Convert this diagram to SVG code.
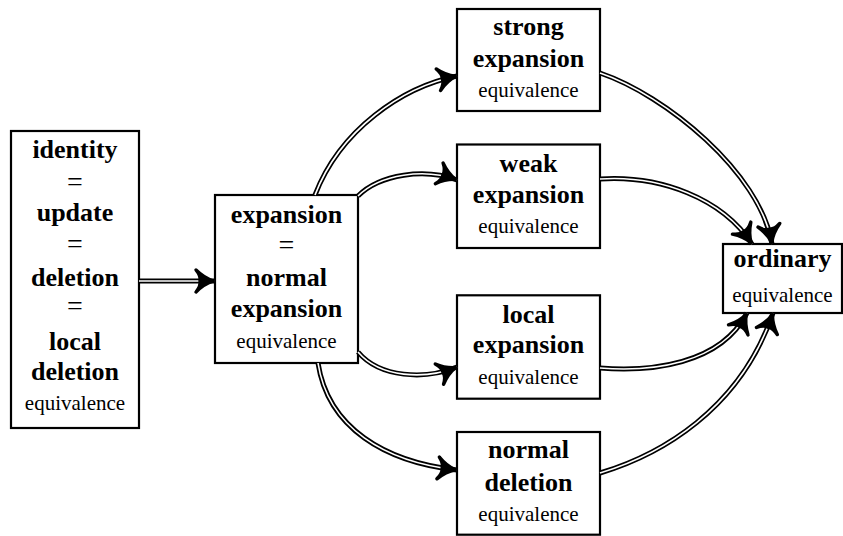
<svg xmlns="http://www.w3.org/2000/svg" width="843" height="536" viewBox="0 0 843 536">
<style>
.box{fill:#fff;stroke:#000;stroke-width:2.2}
.b{font-family:"Liberation Serif","Times New Roman","Nimbus Roman",serif;font-weight:bold;font-size:26px;text-anchor:middle;fill:#000}
.r{font-family:"Liberation Serif","Times New Roman","Nimbus Roman",serif;font-size:21px;text-anchor:middle;fill:#000}
.eq{font-family:"Liberation Serif","Times New Roman","Nimbus Roman",serif;font-size:28px;text-anchor:middle;fill:#000}
.o{fill:none;stroke:#000;stroke-width:5}
.i{fill:none;stroke:#fff;stroke-width:1.6}
.t{fill:none;stroke:none;marker-end:url(#ah)}
</style>
<defs>
<marker id="ah" markerUnits="userSpaceOnUse" viewBox="-30 -16 34 32" markerWidth="34" markerHeight="32" refX="0" refY="0" orient="auto" overflow="visible">
<path d="M-1.5,0 Q-11,-3 -19,-11 Q-14,-5 -15,0 Q-14,5 -19,11 Q-11,3 -1.5,0 Z" fill="#000" stroke="#000" stroke-width="3.4" stroke-linejoin="round"/>
</marker>
</defs>

<g id="n-identity">
<rect class="box" x="11" y="131" width="128" height="297"/>
<text class="b" x="75" y="158">identity</text>
<text class="eq" x="75" y="191">=</text>
<text class="b" x="75" y="221">update</text>
<text class="eq" x="75" y="253">=</text>
<text class="b" x="75" y="286">deletion</text>
<text class="eq" x="75" y="315">=</text>
<text class="b" x="75" y="350">local</text>
<text class="b" x="75" y="380">deletion</text>
<text class="r" x="75" y="410">equivalence</text>
</g>

<g id="n-expansion">
<rect class="box" x="215" y="195" width="143" height="168"/>
<text class="b" x="286.5" y="223">expansion</text>
<text class="eq" x="286.5" y="254">=</text>
<text class="b" x="286.5" y="286">normal</text>
<text class="b" x="286.5" y="317">expansion</text>
<text class="r" x="286.5" y="348">equivalence</text>
</g>

<g id="n-strong">
<rect class="box" x="457" y="9" width="143" height="102"/>
<text class="b" x="528.5" y="35">strong</text>
<text class="b" x="528.5" y="67">expansion</text>
<text class="r" x="528.5" y="97">equivalence</text>
</g>

<g id="n-weak">
<rect class="box" x="457" y="144.5" width="143" height="103.5"/>
<text class="b" x="528.5" y="172">weak</text>
<text class="b" x="528.5" y="203">expansion</text>
<text class="r" x="528.5" y="233">equivalence</text>
</g>

<g id="n-local">
<rect class="box" x="457" y="295.3" width="143" height="103.4"/>
<text class="b" x="528.5" y="323">local</text>
<text class="b" x="528.5" y="353">expansion</text>
<text class="r" x="528.5" y="384">equivalence</text>
</g>

<g id="n-normaldeletion">
<rect class="box" x="457" y="432" width="143" height="102.7"/>
<text class="b" x="528.5" y="458">normal</text>
<text class="b" x="528.5" y="491">deletion</text>
<text class="r" x="528.5" y="521">equivalence</text>
</g>

<g id="n-ordinary">
<rect class="box" x="723" y="244" width="119" height="69"/>
<text class="b" x="782.5" y="267">ordinary</text>
<text class="r" x="782.5" y="301.5">equivalence</text>
</g>

<g id="connectors">
<path class="o" d="M139,281 L215,281"/><path class="i" d="M139,281 L215,281"/><path class="t" d="M139,281 L215,281"/>
<path class="o" d="M315,195 C340,130 402,87 457,76"/><path class="i" d="M315,195 C340,130 402,87 457,76"/><path class="t" d="M315,195 C340,130 402,87 457,76"/>
<path class="o" d="M358,196 C380,174 425,168 457,180"/><path class="i" d="M358,196 C380,174 425,168 457,180"/><path class="t" d="M358,196 C380,174 425,168 457,180"/>
<path class="o" d="M358,352 C380,378 425,380 457,367"/><path class="i" d="M358,352 C380,378 425,380 457,367"/><path class="t" d="M358,352 C380,378 425,380 457,367"/>
<path class="o" d="M318,363 C328,428 385,462 457,470"/><path class="i" d="M318,363 C328,428 385,462 457,470"/><path class="t" d="M318,363 C328,428 385,462 457,470"/>
<path class="o" d="M600,73 C665,95 760,172 772,244"/><path class="i" d="M600,73 C665,95 760,172 772,244"/><path class="t" d="M600,73 C665,95 760,172 772,244"/>
<path class="o" d="M600,179 C660,175 722,198 752,244"/><path class="i" d="M600,179 C660,175 722,198 752,244"/><path class="t" d="M600,179 C660,175 722,198 752,244"/>
<path class="o" d="M600,368 C650,372 720,365 747,313"/><path class="i" d="M600,368 C650,372 720,365 747,313"/><path class="t" d="M600,368 C650,372 720,365 747,313"/>
<path class="o" d="M600,473 C660,455 740,410 773,313"/><path class="i" d="M600,473 C660,455 740,410 773,313"/><path class="t" d="M600,473 C660,455 740,410 773,313"/>
</g>
</svg>
